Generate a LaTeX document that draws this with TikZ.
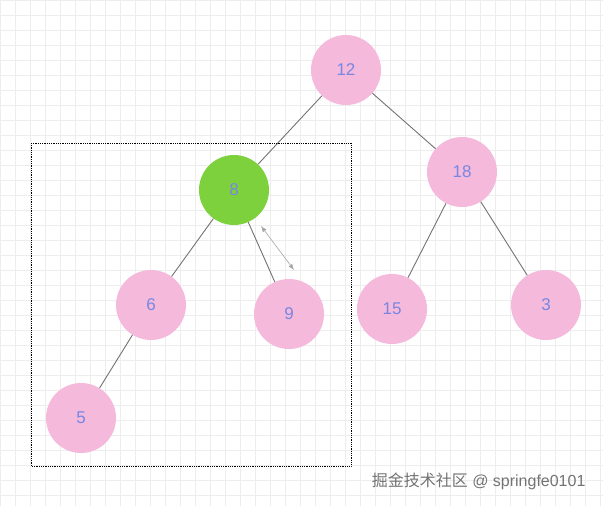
\documentclass[tikz,border=0pt]{standalone}
\usepackage{fontspec}
\setmainfont{Liberation Sans}
\newfontfamily\cjk{Noto Sans CJK SC}
\usetikzlibrary{arrows.meta}
\definecolor{pk}{RGB}{245,185,220}
\definecolor{gr}{RGB}{125,209,60}
\definecolor{tx}{RGB}{120,135,225}
\begin{document}
\begin{tikzpicture}[x=1pt,y=-1pt,
  nd/.style={circle,minimum size=70pt,inner sep=0pt,fill=pk,text=tx,font=\fontsize{17}{17}\selectfont},
  edge/.style={draw=gray!90!black,line width=0.9pt}]
\useasboundingbox (0,0) rectangle (603,506);
\fill[white] (0,0) rectangle (603,506);
\foreach \i in {0,15,...,600} {\draw[black!7,line width=0.6pt] (\i,0)--(\i,506);}
\foreach \j in {0,15,...,505} {\draw[black!7,line width=0.6pt] (0,\j)--(603,\j);}
\node[nd] (n12) at (346,70) {12};
\node[nd,fill=gr] (n8) at (234,190) {8};
\node[nd] (n18) at (462,172) {18};
\node[nd] (n6) at (151,305) {6};
\node[nd] (n9) at (289,314) {9};
\node[nd] (n15) at (392,309) {15};
\node[nd] (n3) at (546,305) {3};
\node[nd] (n5) at (81,418) {5};
\draw[edge] (n12)--(n8); \draw[edge] (n12)--(n18);
\draw[edge] (n8)--(n6); \draw[edge] (n8)--(n9);
\draw[edge] (n18)--(n15); \draw[edge] (n18)--(n3);
\draw[edge] (n6)--(n5);
\draw[densely dotted,line width=0.8pt] (31,143) rectangle (351,466);
\coordinate (a1) at (261,226); \coordinate (a2) at (294,270);
\draw[gray!70,line width=0.6pt,{Latex[length=6pt]}-{Latex[length=6pt]}] (a1)--(a2);
\node[anchor=east,text=black!55,font=\fontsize{16}{16}\selectfont] (wm) at (589,481) {{\cjk 掘金技术社区} @ springfe0101};
\end{tikzpicture}
\end{document}
